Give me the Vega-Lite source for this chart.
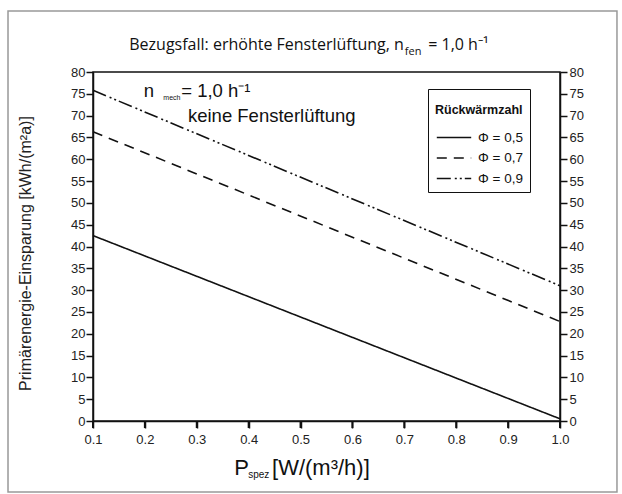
{
  "$schema": "https://vega.github.io/schema/vega-lite/v6.json",
  "width": 467,
  "height": 349,
  "autosize": "none",
  "padding": {"left": 93, "top": 72, "right": 62, "bottom": 73},
  "background": "white",
  "config": {
    "view": {"stroke": "#111", "strokeWidth": 1.5},
    "axis": {
      "domainColor": "#111", "domainWidth": 1.5, "tickColor": "#111", "tickWidth": 1.5, "ticks": true,
      "labelFont": "Liberation Sans", "labelFontSize": 13, "labelColor": "#222",
      "grid": false, "titleFont": "Liberation Sans", "titleFontWeight": "normal", "titleColor": "#222"
    },
    "axisX": {"ticks": true, "tickSize": 7, "labelPadding": 5},
    "legend": {
      "strokeColor": "#111", "fillColor": "white", "padding": 7, "cornerRadius": 0,
      "titleFont": "Liberation Sans", "titleFontSize": 12.5, "titleFontWeight": "bold", "titleColor": "#111", "titlePadding": 12, "titleLineHeight": 8,
      "labelFont": "Liberation Sans", "labelFontSize": 13.5, "labelColor": "#111", "labelOffset": 25,
      "symbolType": "M-0.9,0H3.4", "symbolSize": 256, "symbolStrokeWidth": 1.6, "symbolStrokeColor": "#111", "rowPadding": 4.5
    },
    "text": {"font": "Liberation Sans", "color": "#111"}
  },
  "datasets": {
    "lines": [
      {"p": 0.1, "e": 42.5, "phi": "Φ = 0,5"},
      {"p": 1.0, "e": 0.5, "phi": "Φ = 0,5"},
      {"p": 0.1, "e": 66.3, "phi": "Φ = 0,7"},
      {"p": 1.0, "e": 22.8, "phi": "Φ = 0,7"},
      {"p": 0.1, "e": 75.8, "phi": "Φ = 0,9"},
      {"p": 1.0, "e": 31.0, "phi": "Φ = 0,9"}
    ],
    "xticks": [
      {"x": 0.1}, {"x": 0.2}, {"x": 0.3}, {"x": 0.4}, {"x": 0.5},
      {"x": 0.6}, {"x": 0.7}, {"x": 0.8}, {"x": 0.9}, {"x": 1.0}
    ]
  },
  "resolve": {"axis": {"y": "independent"}},
  "layer": [
    {
      "data": {"name": "lines"},
      "mark": {"type": "line", "color": "#111", "strokeWidth": 1.6},
      "encoding": {
        "x": {"field": "p", "type": "quantitative", "title": null,
          "scale": {"domain": [0.1, 1.0], "nice": false, "zero": false},
          "axis": {"values": [0.1, 0.2, 0.3, 0.4, 0.5, 0.6, 0.7, 0.8, 0.9, 1.0], "format": ".1f", "title": null, "ticks": true, "tickSize": 7, "labelPadding": 5, "labelFlush": false}},
        "y": {"field": "e", "type": "quantitative",
          "scale": {"domain": [0, 80], "nice": false},
          "axis": {"orient": "left", "values": [0, 5, 10, 15, 20, 25, 30, 35, 40, 45, 50, 55, 60, 65, 70, 75, 80], "tickSize": 7, "labelPadding": 1,
            "title": "Primärenergie-Einsparung [kWh/(m²a)]", "titleFontSize": 16, "titleX": -68, "titleY": 181, "titleAngle": -90, "titleAlign": "center", "titleBaseline": "middle"}},
        "strokeDash": {"field": "phi", "type": "nominal",
          "scale": {"domain": ["Φ = 0,5", "Φ = 0,7", "Φ = 0,9"], "range": [[1, 0], [10, 7], [14, 4, 2, 3, 2, 3]]},
          "legend": {"title": ["", "Rückwärmzahl"], "orient": "none", "legendX": 335, "legendY": 17}}
      }
    },
    {
      "data": {"name": "xticks"},
      "mark": {"type": "rule", "color": "#111", "strokeWidth": 2, "clip": false},
      "encoding": {
        "x": {"field": "x", "type": "quantitative", "title": null},
        "y": {"datum": 0, "type": "quantitative", "axis": null},
        "y2": {"datum": -1.6}
      }
    },
    {
      "data": {"values": [{"x1": -0.0638, "x2": 1.1098, "y1": 94.0, "y2": -16.3}]},
      "mark": {"type": "rect", "fillOpacity": 0, "stroke": "#999", "strokeWidth": 1.5, "clip": false},
      "encoding": {
        "x": {"field": "x1", "type": "quantitative", "title": null},
        "x2": {"field": "x2"},
        "y": {"field": "y1", "type": "quantitative",
          "axis": {"orient": "right", "values": [0, 5, 10, 15, 20, 25, 30, 35, 40, 45, 50, 55, 60, 65, 70, 75, 80], "tickSize": 7, "labelPadding": 2, "title": null}},
        "y2": {"field": "y2"}
      }
    },
    {
      "data": {"values": [{"x": 0.699, "y": 85.1, "t": "Bezugsfall: erhöhte Fensterlüftung, n"}]},
      "mark": {"type": "text", "align": "right", "baseline": "alphabetic", "font": "Open Sans", "fontSize": 16, "clip": false},
      "encoding": {"x": {"field": "x", "type": "quantitative", "title": null}, "y": {"field": "y", "type": "quantitative", "axis": null}, "text": {"field": "t"}}
    },
    {
      "data": {"values": [{"x": 0.701, "y": 84.0, "t": "fen"}]},
      "mark": {"type": "text", "align": "left", "baseline": "alphabetic", "font": "Open Sans", "fontSize": 11, "clip": false},
      "encoding": {"x": {"field": "x", "type": "quantitative", "title": null}, "y": {"field": "y", "type": "quantitative", "axis": null}, "text": {"field": "t"}}
    },
    {
      "data": {"values": [{"x": 0.746, "y": 85.1, "t": "= 1,0 h⁻¹"}]},
      "mark": {"type": "text", "align": "left", "baseline": "alphabetic", "font": "Open Sans", "fontSize": 16, "clip": false},
      "encoding": {"x": {"field": "x", "type": "quantitative", "title": null}, "y": {"field": "y", "type": "quantitative", "axis": null}, "text": {"field": "t"}}
    },
    {
      "data": {"values": [
        {"x": 0.198, "y": 74.25, "t": "n"},
        {"x": 0.27, "y": 74.25, "t": "=  1,0 h⁻¹"},
        {"x": 0.283, "y": 68.5, "t": "keine Fensterlüftung"}
      ]},
      "mark": {"type": "text", "align": "left", "baseline": "alphabetic", "fontSize": 18.5, "clip": false},
      "encoding": {"x": {"field": "x", "type": "quantitative", "title": null}, "y": {"field": "y", "type": "quantitative", "axis": null}, "text": {"field": "t"}}
    },
    {
      "data": {"values": [{"x": 0.2355, "y": 73.6, "t": "mech"}]},
      "mark": {"type": "text", "align": "left", "baseline": "alphabetic", "fontSize": 7, "clip": false},
      "encoding": {"x": {"field": "x", "type": "quantitative", "title": null}, "y": {"field": "y", "type": "quantitative", "axis": null}, "text": {"field": "t"}}
    },
    {
      "data": {"values": [
        {"x": 0.372, "y": -12.4, "t": "P"},
        {"x": 0.445, "y": -12.4, "t": "[W/(m³/h)]"}
      ]},
      "mark": {"type": "text", "align": "left", "baseline": "alphabetic", "fontSize": 22, "clip": false},
      "encoding": {"x": {"field": "x", "type": "quantitative", "title": null}, "y": {"field": "y", "type": "quantitative", "axis": null}, "text": {"field": "t"}}
    },
    {
      "data": {"values": [{"x": 0.399, "y": -13.1, "t": "spez"}]},
      "mark": {"type": "text", "align": "left", "baseline": "alphabetic", "fontSize": 10, "clip": false},
      "encoding": {"x": {"field": "x", "type": "quantitative", "title": null}, "y": {"field": "y", "type": "quantitative", "axis": null}, "text": {"field": "t"}}
    }
  ]
}
